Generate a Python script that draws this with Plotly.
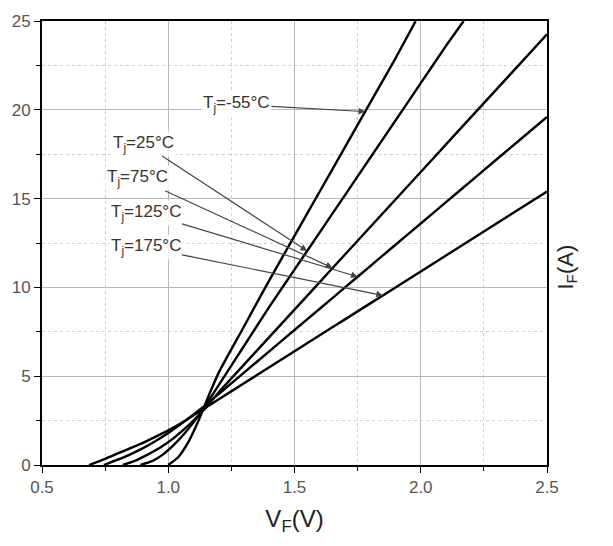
import plotly.graph_objects as go

# Forward characteristics: I_F vs V_F at five junction temperatures
temps = ["-55", "25", "75", "125", "175"]

v_m55 = [1.00, 1.04, 1.08, 1.12, 1.16, 1.20, 1.30, 1.40, 1.50, 1.60, 1.70, 1.80, 1.90, 1.98]
i_m55 = [0.0, 0.45, 1.3, 2.5, 3.9, 5.2, 7.8, 10.4, 12.9, 15.4, 17.9, 20.4, 22.9, 25.0]

v_25 = [0.89, 0.94, 0.98, 1.02, 1.06, 1.10, 1.15, 1.20, 1.30, 1.40, 1.50, 1.60, 1.70, 1.80, 1.90, 2.00, 2.10, 2.17]
i_25 = [0.0, 0.25, 0.6, 1.1, 1.7, 2.4, 3.4, 4.5, 6.7, 8.9, 11.0, 13.1, 15.2, 17.3, 19.4, 21.5, 23.6, 25.0]

v_75 = [0.82, 0.87, 0.92, 0.97, 1.02, 1.07, 1.12, 1.16, 1.20, 1.30, 1.40, 1.50, 1.60, 1.70, 1.80, 1.90, 2.00, 2.10, 2.20, 2.30, 2.40, 2.50]
i_75 = [0.0, 0.25, 0.6, 1.0, 1.5, 2.1, 2.8, 3.4, 4.1, 5.65, 7.2, 8.75, 10.3, 11.85, 13.4, 14.95, 16.5, 18.05, 19.6, 21.15, 22.7, 24.25]

v_125 = [0.745, 0.80, 0.85, 0.90, 0.95, 1.00, 1.05, 1.10, 1.15, 1.20, 1.30, 1.40, 1.50, 1.60, 1.70, 1.80, 1.90, 2.00, 2.10, 2.20, 2.30, 2.40, 2.50]
i_125 = [0.0, 0.3, 0.6, 0.95, 1.35, 1.8, 2.3, 2.85, 3.4, 4.0, 5.2, 6.4, 7.6, 8.8, 10.0, 11.2, 12.4, 13.6, 14.8, 16.0, 17.2, 18.4, 19.6]

v_175 = [0.686, 0.75, 0.80, 0.85, 0.90, 0.95, 1.00, 1.05, 1.10, 1.15, 1.20, 1.30, 1.40, 1.50, 1.60, 1.70, 1.80, 1.90, 2.00, 2.10, 2.20, 2.30, 2.40, 2.50]
i_175 = [0.0, 0.35, 0.65, 0.95, 1.25, 1.6, 1.95, 2.35, 2.8, 3.25, 3.7, 4.6, 5.5, 6.4, 7.3, 8.2, 9.1, 10.0, 10.9, 11.8, 12.7, 13.6, 14.5, 15.4]

curves = [(v_m55, i_m55), (v_25, i_25), (v_75, i_75), (v_125, i_125), (v_175, i_175)]

# label centre (data coords) and arrow head (data coords) per curve
label_pos = [(1.27, 20.3), (0.90, 18.1), (0.88, 16.15), (0.91, 14.2), (0.91, 12.25)]
arrow_head = [(1.78, 19.9), (1.55, 12.05), (1.65, 11.1), (1.75, 10.6), (1.85, 9.55)]

x_ticks = [0.5, 1.0, 1.5, 2.0, 2.5]
y_ticks = [0, 5, 10, 15, 20, 25]

fig = go.Figure()
for (vx, iy), t in zip(curves, temps):
    fig.add_trace(go.Scatter(x=vx, y=iy, mode="lines", name=t,
                             line=dict(color="black", width=2.4, shape="spline", smoothing=0.6),
                             showlegend=False, hoverinfo="skip"))

for t, (lx, ly), (hx, hy) in zip(temps, label_pos, arrow_head):
    fig.add_annotation(x=hx, y=hy, ax=lx, ay=ly, axref="x", ayref="y", xref="x", yref="y",
                       text="T<sub>j</sub>=" + t + "°C", showarrow=True,
                       arrowhead=2, arrowsize=1.1, arrowwidth=1.2, arrowcolor="#444",
                       font=dict(family="Liberation Sans", size=17, color="#333"),
                       bgcolor="rgba(255,255,255,0.85)")

fig.add_annotation(xref="paper", yref="paper", x=1.04, y=0.445, xanchor="center", yanchor="middle",
                   text="I<sub>F</sub>(A)", textangle=-90, showarrow=False,
                   font=dict(family="Liberation Sans", size=22, color="#222"))

grid_major = "#b8b8b8"
grid_minor = "#d0d0d0"
fig.update_xaxes(range=[0.5, 2.5], tickvals=x_ticks, ticktext=[f"{v:.1f}" for v in x_ticks],
                 showgrid=True, gridcolor=grid_major, gridwidth=1,
                 minor=dict(dtick=0.25, showgrid=True, gridcolor=grid_minor, griddash="dot", ticks="outside", ticklen=4, tickcolor="black"),
                 showline=True, linecolor="black", linewidth=2, mirror=True,
                 ticks="outside", ticklen=6, tickcolor="black", zeroline=False,
                 tickfont=dict(family="Liberation Sans", size=17, color="#555"),
                 title=dict(text="V<sub>F</sub>(V)", font=dict(family="Liberation Sans", size=24, color="#222"), standoff=14))
fig.update_yaxes(range=[0, 25], tickvals=y_ticks,
                 showgrid=True, gridcolor=grid_major, gridwidth=1,
                 minor=dict(dtick=2.5, showgrid=True, gridcolor=grid_minor, griddash="dot", ticks="outside", ticklen=4, tickcolor="black"),
                 showline=True, linecolor="black", linewidth=2, mirror=True,
                 ticks="outside", ticklen=6, tickcolor="black", zeroline=False,
                 tickfont=dict(family="Liberation Sans", size=17, color="#555"))

fig.update_layout(width=613, height=546, margin=dict(l=41, r=66, t=16, b=81),
                  plot_bgcolor="white", paper_bgcolor="white")

fig.write_html("out.html")
